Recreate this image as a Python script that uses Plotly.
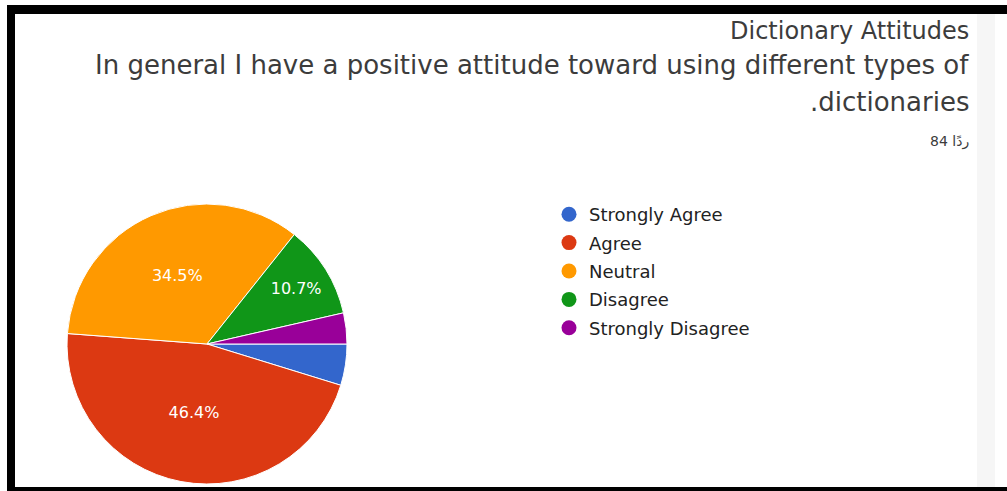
import plotly.graph_objects as go

W, H = 1007, 491

# ---- data ----
categories = ["Strongly Agree", "Agree", "Neutral", "Disagree", "Strongly Disagree"]
responses = [4, 39, 29, 9, 3]
colors = ["#3366cc", "#dc3912", "#ff9900", "#109618", "#990099"]
title_text = "Dictionary Attitudes"
question_line1 = "In general I have a positive attitude toward using different types of"
question_line2 = ".dictionaries"
count_text = "ردًا 84"

total = sum(responses)
show_label = [v / total >= 0.05 for v in responses]
texttemplates = ["%{percent:.1%}" if s else "" for s in show_label]


def px_x(x):
    return x / W


def px_y(y):
    return 1 - y / H


fig = go.Figure()

# pie geometry (pixels)
cx, cy, r = 207, 344, 140
fig.add_trace(go.Pie(
    labels=categories,
    values=responses,
    sort=False,
    direction="clockwise",
    rotation=90,
    marker=dict(colors=colors, line=dict(color="white", width=1)),
    texttemplate=texttemplates,
    textposition="inside",
    insidetextorientation="horizontal",
    textfont=dict(color="white", size=16, family="DejaVu Sans"),
    hoverinfo="label+percent",
    showlegend=False,
    domain=dict(x=[px_x(cx - r), px_x(cx + r)], y=[px_y(cy + r), px_y(cy - r)]),
))

# legend entries with circle markers
for i, (cat, col) in enumerate(zip(categories, colors)):
    fig.add_trace(go.Scatter(
        x=[None], y=[None], mode="markers", name=cat,
        marker=dict(symbol="circle", size=15, color=col),
        legendgroup=f"g{i}", showlegend=True, hoverinfo="skip",
    ))

shapes = [
    # black frame
    dict(type="rect", xref="paper", yref="paper", x0=px_x(7), x1=1, y0=px_y(14), y1=px_y(5),
         fillcolor="black", line=dict(width=0), layer="above"),
    dict(type="rect", xref="paper", yref="paper", x0=px_x(7), x1=px_x(15), y0=0, y1=px_y(5),
         fillcolor="black", line=dict(width=0), layer="above"),
    dict(type="rect", xref="paper", yref="paper", x0=px_x(7), x1=1, y0=0, y1=px_y(487),
         fillcolor="black", line=dict(width=0), layer="above"),
    # faint scrollbar strip
    dict(type="rect", xref="paper", yref="paper", x0=px_x(977), x1=px_x(995), y0=px_y(487), y1=px_y(14),
         fillcolor="#f6f6f6", line=dict(width=0), layer="below"),
]

txt_color = "#3c3c3c"
annotations = [
    dict(text=title_text, x=px_x(971), y=px_y(31), xref="paper", yref="paper",
         xanchor="right", yanchor="middle", showarrow=False,
         font=dict(size=24, color=txt_color, family="DejaVu Sans")),
    dict(text=question_line1, x=px_x(971), y=px_y(65), xref="paper", yref="paper",
         xanchor="right", yanchor="middle", showarrow=False,
         font=dict(size=26, color=txt_color, family="DejaVu Sans")),
    dict(text=question_line2, x=px_x(971), y=px_y(102), xref="paper", yref="paper",
         xanchor="right", yanchor="middle", showarrow=False,
         font=dict(size=26, color=txt_color, family="DejaVu Sans")),
    dict(text=count_text, x=px_x(971), y=px_y(141), xref="paper", yref="paper",
         xanchor="right", yanchor="middle", showarrow=False,
         font=dict(size=14, color=txt_color, family="DejaVu Sans")),
]

fig.update_layout(
    width=W, height=H,
    margin=dict(l=0, r=0, t=0, b=0),
    paper_bgcolor="white", plot_bgcolor="white",
    xaxis=dict(visible=False), yaxis=dict(visible=False),
    showlegend=True,
    legend=dict(
        x=px_x(549), y=px_y(196), xanchor="left", yanchor="top",
        font=dict(size=18, color="#222222", family="DejaVu Sans"),
        tracegroupgap=2, bgcolor="rgba(0,0,0,0)", itemclick=False, itemdoubleclick=False,
    ),
    shapes=shapes,
    annotations=annotations,
)

fig.write_html(
    "out.html",
    config={"displayModeBar": False},
    post_script="document.body.style.margin='0';document.body.style.overflow='hidden';",
)
